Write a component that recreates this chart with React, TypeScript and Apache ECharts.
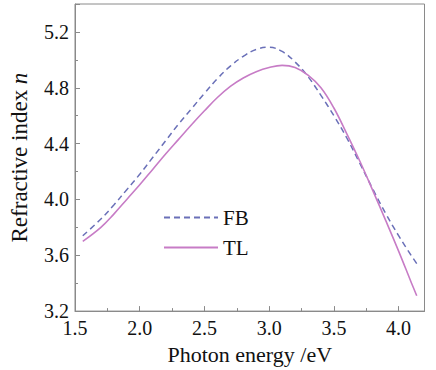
import React, { useEffect, useRef } from "react";
import * as echarts from "echarts";

const energy = [1.56, 1.7, 1.8, 1.9, 2.0, 2.1, 2.2, 2.3, 2.4, 2.5, 2.6, 2.7, 2.8, 2.9, 3.0, 3.1, 3.2, 3.3, 3.4, 3.5, 3.6, 3.7, 3.8, 3.9, 4.0, 4.1, 4.14];
const fbValues = [3.74, 3.86, 3.96, 4.07, 4.18, 4.30, 4.42, 4.54, 4.65, 4.76, 4.865, 4.955, 5.025, 5.075, 5.09, 5.06, 4.985, 4.88, 4.745, 4.60, 4.44, 4.26, 4.075, 3.90, 3.74, 3.595, 3.54];
const tlValues = [3.70, 3.80, 3.895, 4.00, 4.105, 4.215, 4.325, 4.43, 4.535, 4.635, 4.73, 4.81, 4.87, 4.915, 4.945, 4.96, 4.945, 4.89, 4.80, 4.655, 4.47, 4.275, 4.065, 3.85, 3.63, 3.40, 3.31];
const xTickLabels = ["1.5", "2.0", "2.5", "3.0", "3.5", "4.0"];
const yTickLabels = ["3.2", "3.6", "4.0", "4.4", "4.8", "5.2"];
const seriesNames = ["FB", "TL"];

const FONT = "Liberation Serif";
const AXIS_COLOR = "#8a8a8a";
const TEXT_COLOR = "#111111";

export default function App() {
  const ref = useRef<HTMLDivElement>(null);
  useEffect(() => {
    if (!ref.current) return;
    const chart = echarts.init(ref.current, null, { renderer: "svg" });
    const fmt = (list: string[]) => (v: number) => {
      const s = v.toFixed(1);
      return list.indexOf(s) >= 0 ? s : "";
    };
    chart.setOption({
      animation: false,
      backgroundColor: "#ffffff",
      textStyle: { fontFamily: FONT, color: TEXT_COLOR },
      grid: {
        left: 72.5,
        top: 4,
        width: 352,
        height: 309.3,
        show: true,
        borderColor: AXIS_COLOR,
        borderWidth: 1,
        backgroundColor: "transparent",
      },
      legend: {
        data: seriesNames,
        orient: "vertical",
        left: 163,
        top: 207,
        padding: 0,
        itemWidth: 54,
        itemHeight: 14,
        itemGap: 9,
        itemStyle: { opacity: 0 },
        textStyle: { fontFamily: FONT, fontSize: 21, color: TEXT_COLOR },
      },
      xAxis: [
        {
          type: "value",
          min: 1.5,
          max: 4.2,
          interval: 0.5,
          name: "Photon energy /eV",
          nameLocation: "middle",
          nameGap: 29,
          nameTextStyle: { fontFamily: FONT, fontSize: 22, color: TEXT_COLOR },
          axisLine: { show: true, lineStyle: { color: AXIS_COLOR } },
          axisTick: { show: true, inside: true, length: 5, lineStyle: { color: AXIS_COLOR } },
          axisLabel: { fontFamily: FONT, fontSize: 20, color: TEXT_COLOR, margin: 7, formatter: fmt(xTickLabels) },
          splitLine: { show: false },
        },
        {
          type: "value",
          min: 1.5,
          max: 4.2,
          interval: 0.25,
          position: "bottom",
          axisLine: { show: false },
          axisTick: { show: true, inside: true, length: 3, lineStyle: { color: AXIS_COLOR } },
          axisLabel: { show: false },
          splitLine: { show: false },
        },
      ],
      yAxis: [
        {
          type: "value",
          min: 3.2,
          max: 5.4,
          interval: 0.4,
          name: "{a|Refractive index }{b|n}",
          nameLocation: "middle",
          nameGap: 44,
          nameRotate: 90,
          nameTextStyle: {
            fontFamily: FONT,
            fontSize: 23,
            color: TEXT_COLOR,
            rich: {
              a: { fontFamily: FONT, fontSize: 23, color: TEXT_COLOR },
              b: { fontFamily: FONT, fontSize: 23, color: TEXT_COLOR, fontStyle: "italic" },
            },
          },
          axisLine: { show: true, lineStyle: { color: AXIS_COLOR } },
          axisTick: { show: true, inside: true, length: 5, lineStyle: { color: AXIS_COLOR } },
          axisLabel: { fontFamily: FONT, fontSize: 20, color: TEXT_COLOR, margin: 6, formatter: fmt(yTickLabels) },
          splitLine: { show: false },
        },
        {
          type: "value",
          min: 3.2,
          max: 5.4,
          interval: 0.2,
          position: "left",
          axisLine: { show: false },
          axisTick: { show: true, inside: true, length: 3, lineStyle: { color: AXIS_COLOR } },
          axisLabel: { show: false },
          splitLine: { show: false },
        },
      ],
      series: [
        {
          name: seriesNames[0],
          type: "line",
          smooth: 0.4,
          symbol: "none",
          data: energy.map((x, i) => [x, fbValues[i]]),
          lineStyle: { color: "#6a70b8", width: 1.5, type: [6, 4] },
          itemStyle: { color: "#6a70b8" },
        },
        {
          name: seriesNames[1],
          type: "line",
          smooth: 0.4,
          symbol: "none",
          data: energy.map((x, i) => [x, tlValues[i]]),
          lineStyle: { color: "#c77cc6", width: 1.6 },
          itemStyle: { color: "#c77cc6" },
        },
      ],
    });
    return () => chart.dispose();
  }, []);
  return <div ref={ref} style={{ position: "absolute", left: 0, top: 0, width: 436, height: 370 }} />;
}
